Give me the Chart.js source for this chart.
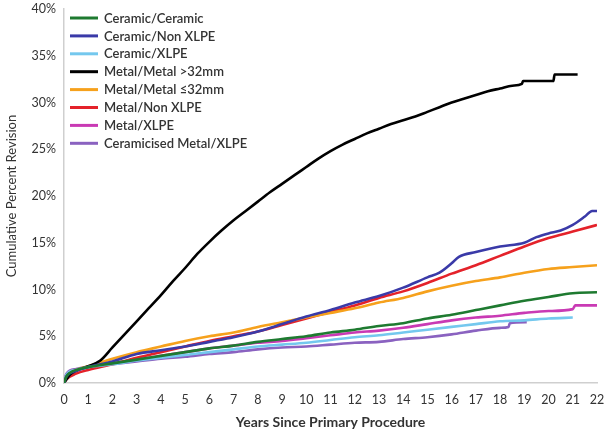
<!DOCTYPE html>
<html>
<head>
<meta charset="utf-8">
<script src="https://cdn.jsdelivr.net/npm/chart.js@4.4.1/dist/chart.umd.min.js"></script>
<style>
  html, body { margin: 0; padding: 0; background: #ffffff; }
  #wrap { width: 605px; height: 433px; position: relative; }
</style>
</head>
<body>
<div id="wrap"><canvas id="c" width="605" height="433"></canvas></div>
<script>
// ---- Data ----
const seriesLabels = [
  "Ceramic/Ceramic",
  "Ceramic/Non XLPE",
  "Ceramic/XLPE",
  "Metal/Metal >32mm",
  "Metal/Metal \u226432mm",
  "Metal/Non XLPE",
  "Metal/XLPE",
  "Ceramicised Metal/XLPE"
];
const seriesColors = ["#1e7a30", "#3a3aa8", "#74c8ee", "#000000", "#f6a11c", "#e4222a", "#c93ab4", "#8a62c0"];

const xTickValues = [0,1,2,3,4,5,6,7,8,9,10,11,12,13,14,15,16,17,18,19,20,21,22];
const yTickValues = [0,5,10,15,20,25,30,35,40];

const ccYears   = [0,0.1,0.25,0.5,1,2,3,4,5,6,7,8,9,10,11,12,13,14,15,16,17,18,19,20,21,22];
const ccValues  = [0,0.7,1.1,1.4,1.7,2.1,2.5,2.9,3.3,3.7,4.0,4.4,4.7,5.0,5.4,5.7,6.1,6.4,6.9,7.3,7.8,8.3,8.8,9.2,9.6,9.7];

const cnYears   = [0,0.1,0.5,1,2,3,4,5,6,7,8,9,10,11,12,13,14,15,15.5,16,16.3,17,18,19,19.5,20,20.5,21,21.5,21.8,22.1];
const cnValues  = [0,0.7,1.3,1.7,2.3,3.1,3.5,3.9,4.4,4.9,5.5,6.3,7.1,7.8,8.6,9.3,10.2,11.3,11.8,12.8,13.5,14.0,14.6,15.0,15.6,16.0,16.3,16.9,17.8,18.4,18.4];

const cxYears   = [0,0.1,0.5,1,2,3,4,5,6,7,8,9,10,11,12,13,14,15,16,17,18,19,20,21];
const cxValues  = [0,0.9,1.4,1.7,2.0,2.4,2.7,3.0,3.3,3.6,3.9,4.1,4.3,4.6,4.9,5.1,5.4,5.7,6.0,6.3,6.6,6.7,6.9,7.0];

const mmLYears  = [0,0.25,0.5,1,1.5,2,2.5,3,3.5,4,4.5,5,5.5,6,6.5,7,7.5,8,8.5,9,9.5,10,10.5,11,11.5,12,12.5,13,13.5,14,14.5,15,15.5,16,16.5,17,17.5,18,18.5,18.9,18.95,20.2,20.25,21.2];
const mmLValues = [0,0.9,1.3,1.8,2.4,3.8,5.2,6.6,8.0,9.4,10.9,12.3,13.8,15.1,16.3,17.4,18.4,19.4,20.4,21.3,22.2,23.1,24.0,24.8,25.5,26.1,26.7,27.2,27.7,28.1,28.5,29.0,29.5,30.0,30.4,30.8,31.2,31.5,31.8,32.0,32.3,32.3,33.0,33.0];

const mmSYears  = [0,0.1,0.5,1,1.5,2,3,4,5,6,7,8,9,10,11,12,13,14,15,16,17,18,19,20,21,22];
const mmSValues = [0,0.8,1.4,1.8,2.2,2.6,3.3,3.9,4.5,5.0,5.4,6.0,6.5,7.0,7.5,8.0,8.6,9.1,9.8,10.4,10.9,11.3,11.8,12.2,12.4,12.6];

const mnYears   = [0,0.1,0.5,1,2,3,4,5,6,7,8,9,10,11,12,13,14,15,16,17,18,19,20,21,22];
const mnValues  = [0,0.4,1.0,1.4,2.0,2.7,3.3,3.9,4.5,5.0,5.5,6.2,6.9,7.6,8.3,9.1,9.8,10.7,11.7,12.6,13.6,14.6,15.5,16.2,16.9];

const mxYears   = [0,0.1,0.5,1,2,3,4,5,6,7,8,9,10,11,12,13,14,15,16,17,18,19,20,21,21.1,22];
const mxValues  = [0,0.9,1.4,1.7,2.1,2.5,2.9,3.3,3.7,4.0,4.3,4.5,4.8,5.1,5.4,5.6,5.9,6.3,6.7,7.0,7.2,7.5,7.7,7.9,8.3,8.3];

const cmYears   = [0,0.1,0.5,1,2,3,4,5,6,7,8,9,10,11,12,13,14,15,16,17,18,18.35,18.4,19.1];
const cmValues  = [0,1.0,1.5,1.7,2.0,2.3,2.6,2.8,3.1,3.3,3.6,3.8,3.9,4.1,4.3,4.4,4.7,4.9,5.2,5.6,5.9,6.0,6.4,6.5];

const allYears  = [ccYears, cnYears, cxYears, mmLYears, mmSYears, mnYears, mxYears, cmYears];
const allValues = [ccValues, cnValues, cxValues, mmLValues, mmSValues, mnValues, mxValues, cmValues];

// ---- Build datasets ----
const datasets = seriesLabels.map((label, i) => ({
  label: label,
  data: allYears[i].map((x, k) => ({ x: x, y: allValues[i][k] })),
  borderColor: seriesColors[i],
  backgroundColor: seriesColors[i],
  borderWidth: 2.6,
  pointRadius: 0,
  cubicInterpolationMode: 'monotone',
  fill: false
}));
const FONT = "Lato, 'Open Sans', sans-serif";

const legendPlugin = {
  id: 'insideLegend',
  afterDatasetsDraw(chart) {
    const ctx = chart.ctx;
    const area = chart.chartArea;
    ctx.save();
    ctx.font = "600 13px " + FONT;
    ctx.textBaseline = 'middle';
    ctx.textAlign = 'left';
    chart.data.datasets.forEach((ds, i) => {
      const y = area.top + 9 + i * 17.9;
      const x0 = area.left + 6;
      ctx.strokeStyle = ds.borderColor;
      ctx.lineWidth = 3;
      ctx.beginPath();
      ctx.moveTo(x0, y);
      ctx.lineTo(x0 + 28, y);
      ctx.stroke();
      ctx.fillStyle = '#333333';
      ctx.fillText(ds.label, x0 + 34, y + 0.5);
    });
    ctx.restore();
  }
};

new Chart(document.getElementById('c'), {
  type: 'line',
  data: { datasets: datasets },
  plugins: [legendPlugin],
  options: {
    responsive: false,
    animation: false,
    devicePixelRatio: 1,
    layout: { padding: { top: 9, right: 0, left: 0, bottom: 0 } },
    plugins: { legend: { display: false }, tooltip: { enabled: false } },
    scales: {
      x: {
        type: 'linear',
        min: 0, max: 22,
        afterBuildTicks(axis) { axis.ticks = xTickValues.map(v => ({ value: v })); },
        afterFit(axis) { axis.height = 50; axis.paddingRight = 8; axis.paddingLeft = 0; },
        grid: { display: true, drawOnChartArea: false, drawTicks: false, color: '#d4d4d4' },
        border: { display: true, color: '#cfcfcf', width: 1.5 },
        ticks: { padding: 9, color: '#333', font: { family: FONT, size: 12.5 }, maxRotation: 0, autoSkip: false },
        title: { display: true, text: 'Years Since Primary Procedure', color: '#333', padding: { top: 0, bottom: 2 }, font: { family: FONT, size: 14, weight: 'bold' } }
      },
      y: {
        min: 0, max: 40,
        afterBuildTicks(axis) { axis.ticks = yTickValues.map(v => ({ value: v })); },
        afterFit(axis) { axis.width = 64; axis.paddingTop = 0; axis.paddingBottom = 0; },
        grid: { display: true, drawOnChartArea: false, drawTicks: false, color: '#d4d4d4' },
        border: { display: true, color: '#cfcfcf', width: 1.5 },
        ticks: { padding: 8, color: '#333', font: { family: FONT, size: 12.5 }, callback: v => v + '%' },
        title: { display: true, text: 'Cumulative Percent Revision', color: '#333', padding: { top: 4, bottom: 0 }, font: { family: FONT, size: 13 } }
      }
    }
  }
});
</script>
</body>
</html>
